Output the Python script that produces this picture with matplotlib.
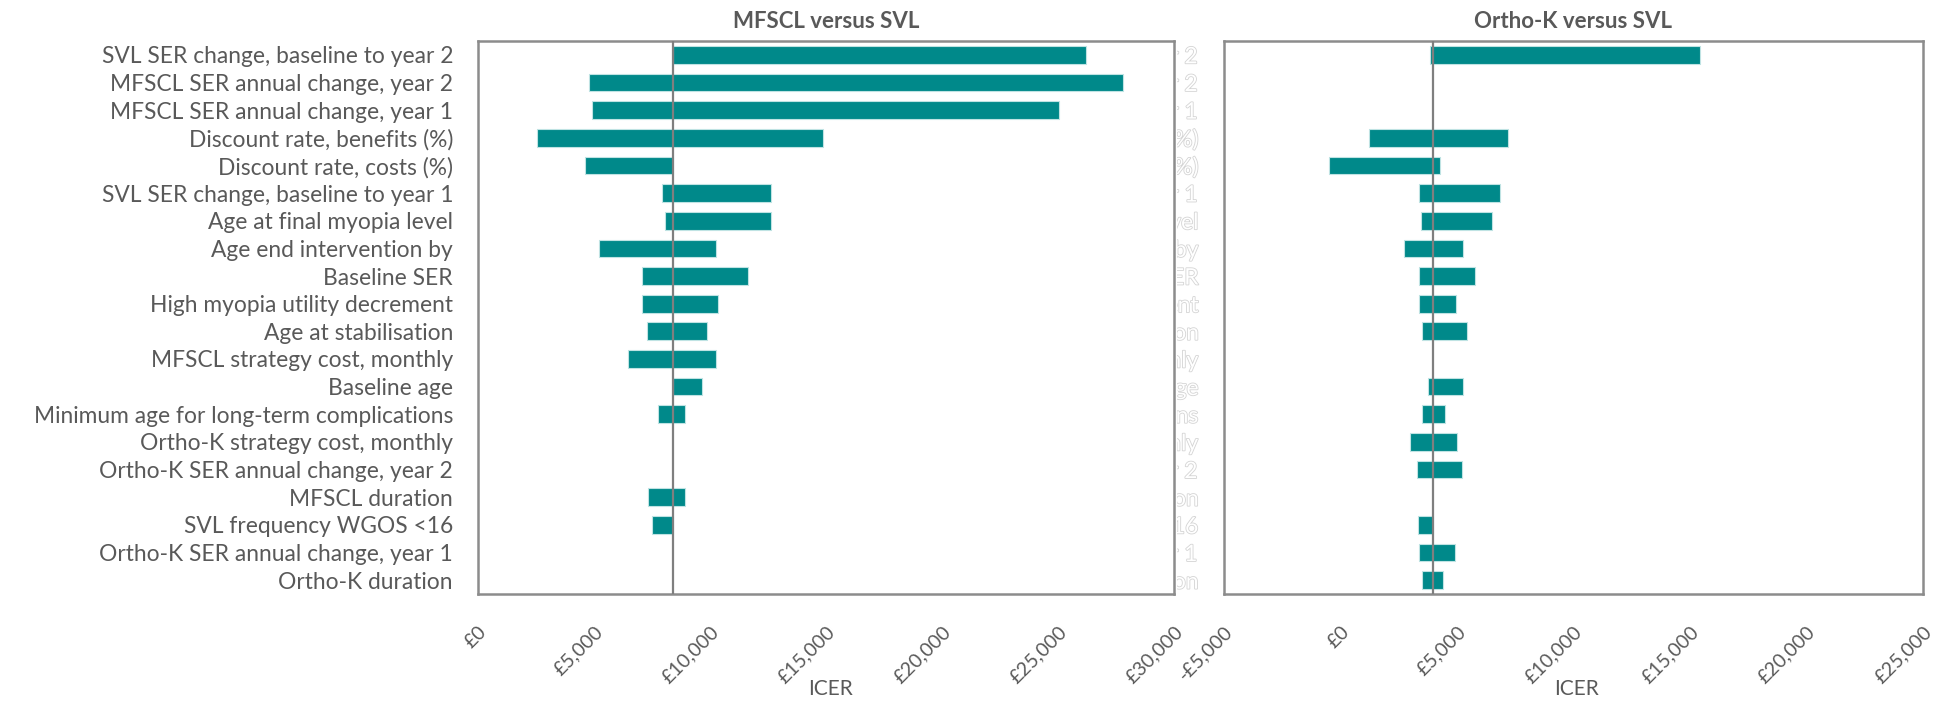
import numpy as np
import matplotlib
matplotlib.use("Agg")
import matplotlib.pyplot as plt
import matplotlib.patheffects as pe
from matplotlib.ticker import FuncFormatter
from matplotlib.transforms import Bbox, TransformedBbox

nan = np.nan

params = [
    "SVL SER change, baseline to year 2",
    "MFSCL SER annual change, year 2",
    "MFSCL SER annual change, year 1",
    "Discount rate, benefits (%)",
    "Discount rate, costs (%)",
    "SVL SER change, baseline to year 1",
    "Age at final myopia level",
    "Age end intervention by",
    "Baseline SER",
    "High myopia utility decrement",
    "Age at stabilisation",
    "MFSCL strategy cost, monthly",
    "Baseline age",
    "Minimum age for long-term complications",
    "Ortho-K strategy cost, monthly",
    "Ortho-K SER annual change, year 2",
    "MFSCL duration",
    "SVL frequency WGOS <16",
    "Ortho-K SER annual change, year 1",
    "Ortho-K duration",
]

# base-case ICERs
mfscl_base = 8390
orthok_base = 3990

# one-way sensitivity ranges (GBP per QALY)
mfscl_low = [8390, 4800, 4900, 2550, 4600, 7920, 8050, 5230, 7050, 7050,
             7280, 6480, 8390, 7760, nan, nan, 7320, 7520, nan, nan]
mfscl_high = [26190, 27810, 25050, 14860, 8390, 12610, 12610, 10250, 11630, 10340,
              9870, 10270, 9670, 8940, nan, nan, 8940, 8390, nan, nan]

orthok_low = [3820, nan, nan, 1220, -510, 3360, 3470, 2720, 3360, 3360,
              3510, nan, 3750, 3510, 3000, 3280, nan, 3320, 3360, 3510]
orthok_high = [15420, nan, nan, 7210, 4290, 6840, 6500, 5240, 5780, 4960,
               5440, nan, 5240, 4490, 5010, 5200, nan, 3990, 4920, 4380]

W, H = 1948, 704
fig = plt.figure(figsize=(W / 100, H / 100), dpi=100)

teal = "#00898a"
frame = "#8c8c8c"
txt = "#595959"
font = "Lato"


def gbp(v, pos):
    if v < 0:
        return "-£{:,.0f}".format(-v)
    return "£{:,.0f}".format(v)


def tornado(ax, low, high, base, xlim, title):
    y = np.arange(len(params))
    low = np.array(low, dtype=float)
    high = np.array(high, dtype=float)
    ok = ~np.isnan(low)
    ax.barh(y[ok], high[ok] - low[ok], left=low[ok], height=0.64,
            color=teal, edgecolor="#bfe3e3", linewidth=0.8, zorder=2)
    ax.axvline(base, color="#7f7f7f", lw=1.6, zorder=3)
    ax.set_xlim(*xlim)
    ax.set_ylim(len(params) - 0.5, -0.5)
    ax.set_xticks(np.arange(xlim[0], xlim[1] + 1, 5000))
    ax.xaxis.set_major_formatter(FuncFormatter(gbp))
    ax.tick_params(axis="x", length=0, pad=21)
    for lbl in ax.get_xticklabels():
        lbl.set_fontfamily(font)
        lbl.set_fontsize(14)
        lbl.set_color(txt)
        lbl.set_rotation(45)
        lbl.set_ha("right")
        lbl.set_va("top")
        lbl.set_rotation_mode("anchor")
    ax.set_yticks(y)
    ax.set_yticklabels(params, fontfamily=font, fontsize=16.4, color=txt)
    ax.tick_params(axis="y", length=0, pad=18)
    for s in ax.spines.values():
        s.set_color(frame)
        s.set_linewidth(1.8)
    ax.set_title(title, fontfamily=font, fontweight="bold", fontsize=16,
                 color=txt, pad=9)


ax1 = fig.add_axes([478 / W, 1 - 594 / H, 696 / W, 553 / H])
ax2 = fig.add_axes([1224 / W, 1 - 594 / H, 699 / W, 553 / H])

tornado(ax1, mfscl_low, mfscl_high, mfscl_base, (0, 30000), "MFSCL versus SVL")
tornado(ax2, orthok_low, orthok_high, orthok_base, (-5000, 25000), "Ortho-K versus SVL")

# right panel labels are white, only visible in the gap between panels
gap = TransformedBbox(Bbox.from_extents(1177 / W, 0, 1222 / W, 1), fig.transFigure)
for lbl in ax2.get_yticklabels():
    lbl.set_color("white")
    lbl.set_path_effects([pe.withStroke(linewidth=1.2, foreground="#d4d4d4")])
    lbl.set_clip_on(True)
    lbl.set_clip_box(gap)

fig.text(830 / W, 1 - 689 / H, "ICER", ha="center", va="center",
         fontfamily=font, fontsize=15, color=txt)
fig.text(1577 / W, 1 - 689 / H, "ICER", ha="center", va="center",
         fontfamily=font, fontsize=15, color=txt)

fig.savefig("out.png", dpi=100, facecolor="white")
